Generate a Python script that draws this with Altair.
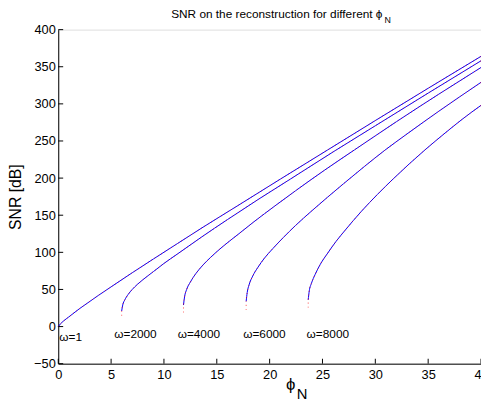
import altair as alt
import pandas as pd

# ---------------- data ----------------
series_names = ["w1", "w2000", "w4000", "w6000", "w8000"]

phi_w1 = [0.0, 0.2, 0.5, 1.0, 2.0, 3.0, 3.8, 5.0, 7.0, 9.0, 11.3, 13.6, 17.0, 21.0, 25.5, 30.0, 35.0, 40.0]
snr_w1 = [0.0, 3.5, 7.5, 13.0, 24.0, 34.0, 42.0, 53.5, 72.5, 91.0, 112.0, 133.0, 163.0, 198.5, 238.0, 277.5, 321.0, 364.0]

phi_w2000 = [6.0, 6.1, 6.3, 6.6, 7.0, 7.5, 8.0, 9.0, 10.0, 11.3, 13.6, 16.0, 19.0, 22.0, 26.2, 30.0, 35.0, 40.0]
snr_w2000 = [21.0, 29.0, 36.0, 43.0, 50.0, 57.0, 63.0, 74.0, 85.0, 98.0, 121.0, 144.0, 172.0, 199.0, 237.0, 270.5, 314.5, 358.0]

phi_w4000 = [11.85, 11.95, 12.15, 12.5, 13.0, 13.7, 14.4, 15.5, 17.0, 18.5, 20.5, 22.46, 25.23, 28.03, 32.0, 36.0, 40.0]
snr_w4000 = [29.0, 40.0, 50.0, 60.0, 71.0, 83.0, 93.0, 107.0, 124.0, 141.0, 162.5, 183.0, 211.0, 238.0, 276.0, 313.0, 349.0]

phi_w6000 = [17.78, 17.88, 18.05, 18.4, 18.9, 19.5, 20.3, 21.3, 22.44, 24.0, 25.5, 27.0, 29.0, 30.9, 33.0, 36.0, 40.0]
snr_w6000 = [34.0, 46.0, 56.0, 68.0, 80.0, 92.0, 105.0, 120.0, 136.0, 156.0, 174.5, 192.5, 216.0, 237.5, 259.5, 290.0, 329.0]

phi_w8000 = [23.65, 23.75, 23.95, 24.3, 24.8, 25.5, 26.3, 27.1, 28.7, 30.2, 31.7, 33.2, 34.7, 36.5, 38.2, 40.0]
snr_w8000 = [36.0, 48.0, 58.0, 70.0, 84.0, 99.0, 115.0, 129.0, 155.5, 178.0, 199.0, 219.0, 238.0, 259.5, 279.0, 298.0]

# lowest point of the red dotted curves, just below each blue start
red_start_snr = [0.0, 14.6, 19.0, 22.6, 25.6]

label_texts = ["ω=1", "ω=2000", "ω=4000", "ω=6000", "ω=8000"]
label_phi = [0.1, 5.3, 11.3, 17.5, 23.5]
label_snr = [-14.0, -10.0, -10.0, -10.0, -10.0]

x_ticks = [0, 5, 10, 15, 20, 25, 30, 35, 40]
y_ticks = [-50, 0, 50, 100, 150, 200, 250, 300, 350, 400]

# ---------------- tables ----------------
all_phi = [phi_w1, phi_w2000, phi_w4000, phi_w6000, phi_w8000]
all_snr = [snr_w1, snr_w2000, snr_w4000, snr_w6000, snr_w8000]

blue_rows, red_rows = [], []
for name, ph, sn, rs in zip(series_names, all_phi, all_snr, red_start_snr):
    for i, (p, s) in enumerate(zip(ph, sn)):
        blue_rows.append({"s": name, "phi": p, "snr": s, "o": i})
    red_rows.append({"s": name, "phi": ph[0], "snr": rs, "o": -1})
    for i, (p, s) in enumerate(zip(ph, sn)):
        red_rows.append({"s": name, "phi": p, "snr": s, "o": i})
blue_df = pd.DataFrame(blue_rows)
red_df = pd.DataFrame(red_rows)
lab_df = pd.DataFrame({"t": label_texts, "phi": label_phi, "snr": label_snr})
xt_df = pd.DataFrame({"phi": x_ticks})
yt_df = pd.DataFrame({"snr": y_ticks})

W, H = 429, 339
FONT = "Liberation Sans"

xs = alt.Scale(domain=[0, 40], nice=False, zero=False)
ys = alt.Scale(domain=[-50, 400], nice=False, zero=False)

x_axis = alt.Axis(values=x_ticks, title=None, labelFontSize=13, labelPadding=5,
                  labelFlush=False, labelOverlap=False, grid=False, ticks=False,
                  domainColor="black", labelColor="black", labelFont=FONT)
y_axis = alt.Axis(values=y_ticks, title="SNR [dB]", labelFontSize=13, labelPadding=3,
                  labelOverlap=False, labelFlush=False, grid=False, ticks=False,
                  domainColor="black", labelColor="black", labelFont=FONT,
                  titleFont=FONT, titleColor="black",
                  titleFontSize=16, titleFontWeight="normal", titleX=-35, titleY=H / 2)

X = alt.X("phi:Q", scale=xs, axis=x_axis)
Y = alt.Y("snr:Q", scale=ys, axis=y_axis)

blue = alt.Chart(blue_df).mark_line(color="#0000ff", strokeWidth=1,
                                    interpolate="monotone").encode(
    x=X, y=Y, detail="s:N", order="o:Q")

red = alt.Chart(red_df).mark_line(color="#ff0000", strokeWidth=1, strokeDash=[1, 3],
                                  opacity=0.7, interpolate="monotone").encode(
    x=X, y=Y, detail="s:N", order="o:Q")

labels = alt.Chart(lab_df).mark_text(align="left", baseline="middle", fontSize=12,
                                     font=FONT, color="black").encode(
    x=X, y=Y, text="t:N")

xticks = alt.Chart(xt_df).mark_rule(color="black", strokeWidth=1).encode(
    x=X, y=alt.value(H), y2=alt.value(H - 5))
yticks = alt.Chart(yt_df).mark_rule(color="black", strokeWidth=1).encode(
    y=Y, x=alt.value(0), x2=alt.value(5))

title_main = alt.Chart(pd.DataFrame({"t": ["SNR on the reconstruction for different ϕ"]})).mark_text(
    align="right", baseline="alphabetic", fontSize=12, font=FONT, color="black").encode(
    text="t:N", x=alt.value(329), y=alt.value(-12))
title_sub = alt.Chart(pd.DataFrame({"t": ["N"]})).mark_text(
    align="left", baseline="alphabetic", fontSize=9, font=FONT, color="black").encode(
    text="t:N", x=alt.value(331), y=alt.value(-7))

xt_main = alt.Chart(pd.DataFrame({"t": ["ϕ"]})).mark_text(
    align="left", baseline="alphabetic", fontSize=17, font=FONT, color="black").encode(
    text="t:N", x=alt.value(231), y=alt.value(H + 27))
xt_sub = alt.Chart(pd.DataFrame({"t": ["N"]})).mark_text(
    align="left", baseline="alphabetic", fontSize=15, font=FONT, color="black").encode(
    text="t:N", x=alt.value(242), y=alt.value(H + 36))

chart = alt.layer(blue, red, labels, xticks, yticks, title_main, title_sub, xt_main, xt_sub).properties(
    width=W, height=H,
    autosize=alt.AutoSizeParams(type="none"),
    padding={"left": 51, "top": 19, "right": 0, "bottom": 40},
).configure_view(stroke=None).configure_axis(
    grid=False, domainColor="black", domainWidth=1, labelColor="black",
    titleColor="black", labelFont=FONT, titleFont=FONT,
).configure(font=FONT)

chart.save("out.html", embed_options={"renderer": "svg", "actions": False})
